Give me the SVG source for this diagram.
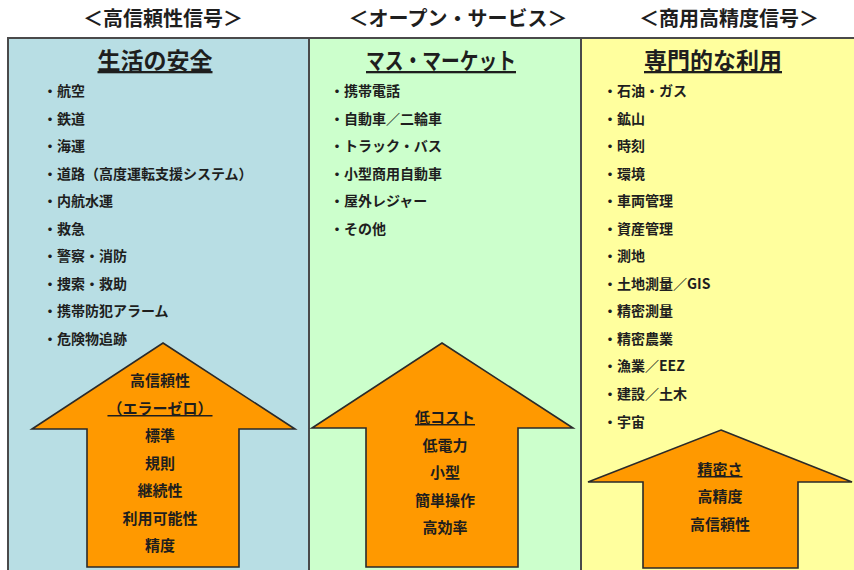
<svg xmlns="http://www.w3.org/2000/svg" width="854" height="570" viewBox="0 0 854 570">
<style>
text{font-family:"Noto Sans CJK JP","Noto Sans CJK SC",sans-serif;fill:#1e1e1e;font-weight:bold}
.hd{font-size:20px;text-anchor:middle}
.tt{font-size:23px;text-anchor:middle;text-decoration:underline}
.li{font-size:14px}
.ar{font-size:15px;text-anchor:middle}
.u{text-decoration:underline}
.panel{stroke:#4a4a4a;stroke-width:2}
.arrow{fill:#ff9900;stroke:#2a2a2a;stroke-width:1.6;stroke-linejoin:miter}
</style>
<rect width="854" height="570" fill="#ffffff"/>
<g id="headers">
<text class="hd" x="163" y="26">＜高信頼性信号＞</text>
<text class="hd" x="458" y="26">＜オープン・サービス＞</text>
<text class="hd" x="729" y="26">＜商用高精度信号＞</text>
</g>
<g id="panel-safety">
<rect class="panel" x="8" y="38" width="301" height="540" fill="#b8dee4"/>
<text class="tt" x="155" y="69">生活の安全</text>
<text class="li" x="43" y="96">・航空</text>
<text class="li" x="43" y="124">・鉄道</text>
<text class="li" x="43" y="151">・海運</text>
<text class="li" x="43" y="179">・道路（高度運転支援システム）</text>
<text class="li" x="43" y="206">・内航水運</text>
<text class="li" x="43" y="234">・救急</text>
<text class="li" x="43" y="261">・警察・消防</text>
<text class="li" x="43" y="289">・捜索・救助</text>
<text class="li" x="43" y="316">・携帯防犯アラーム</text>
<text class="li" x="43" y="344">・危険物追跡</text>
</g>
<g id="panel-mass">
<rect class="panel" x="309" y="38" width="272" height="540" fill="#ccffcc"/>
<text class="tt" x="441" y="69" textLength="150" lengthAdjust="spacingAndGlyphs">マス・マーケット</text>
<text class="li" x="330" y="96">・携帯電話</text>
<text class="li" x="330" y="124">・自動車／二輪車</text>
<text class="li" x="330" y="151">・トラック・バス</text>
<text class="li" x="330" y="179">・小型商用自動車</text>
<text class="li" x="330" y="206">・屋外レジャー</text>
<text class="li" x="330" y="234">・その他</text>
</g>
<g id="panel-pro">
<rect class="panel" x="581" y="38" width="280" height="540" fill="#ffff9e"/>
<text class="tt" x="713" y="69">専門的な利用</text>
<text class="li" x="603" y="96">・石油・ガス</text>
<text class="li" x="603" y="124">・鉱山</text>
<text class="li" x="603" y="151">・時刻</text>
<text class="li" x="603" y="179">・環境</text>
<text class="li" x="603" y="206">・車両管理</text>
<text class="li" x="603" y="234">・資産管理</text>
<text class="li" x="603" y="261">・測地</text>
<text class="li" x="603" y="289">・土地測量／GIS</text>
<text class="li" x="603" y="316">・精密測量</text>
<text class="li" x="603" y="344">・精密農業</text>
<text class="li" x="603" y="371">・漁業／EEZ</text>
<text class="li" x="603" y="399">・建設／土木</text>
<text class="li" x="603" y="427">・宇宙</text>
</g>
<g id="arrow-safety">
<polygon class="arrow" points="163,343 295,429 239,429 239,567 87,567 87,429 32,429"/>
<text class="ar" x="160" y="386">高信頼性</text>
<text class="ar u" x="160" y="414">（エラーゼロ）</text>
<text class="ar" x="160" y="441">標準</text>
<text class="ar" x="160" y="469">規則</text>
<text class="ar" x="160" y="496">継続性</text>
<text class="ar" x="160" y="524">利用可能性</text>
<text class="ar" x="160" y="551">精度</text>
</g>
<g id="arrow-mass">
<polygon class="arrow" points="442,343 573,428 518,428 518,567 366,567 366,428 312,428"/>
<text class="ar u" x="445" y="423">低コスト</text>
<text class="ar" x="445" y="451">低電力</text>
<text class="ar" x="445" y="478">小型</text>
<text class="ar" x="445" y="506">簡単操作</text>
<text class="ar" x="445" y="533">高効率</text>
</g>
<g id="arrow-pro">
<polygon class="arrow" points="721,430 852,482 798,482 798,568 643,568 643,482 588,482"/>
<text class="ar u" x="720" y="475">精密さ</text>
<text class="ar" x="720" y="502">高精度</text>
<text class="ar" x="720" y="530">高信頼性</text>
</g>
<g id="connectors"></g>
</svg>
